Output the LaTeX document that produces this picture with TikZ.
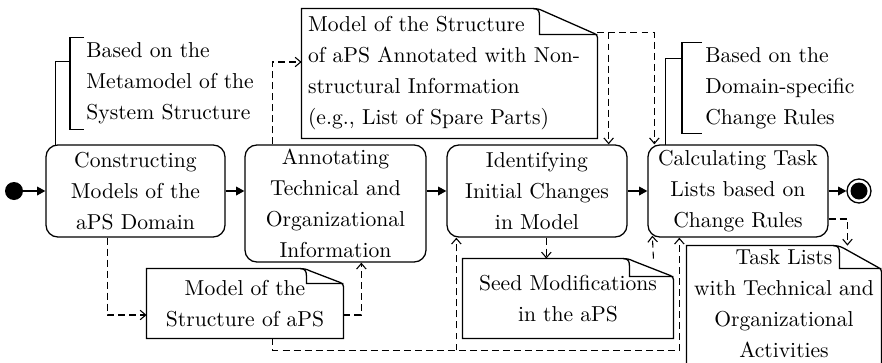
\documentclass[tikz,border=0pt]{standalone}
\usetikzlibrary{arrows.meta,calc}
% #1 node name, #2 fold width, #3 fold height, #4 extra length below the node (px)
\newcommand\notefold[4]{%
  \coordinate (F) at (#1.north east);
  \draw[noteline] ($(#1.south east)+(0,#4)$) -- ($(F)+(0,#3+3)$)
     .. controls ($(F)+(0,#3+1)$) and ($(F)+(-1,#3)$) .. ($(F)+(-3,#3-1)$)
     -- ($(F)+(-#2+10,2.5)$)
     .. controls ($(F)+(-#2+6,0.5)$) and ($(F)+(-#2+3,0)$) .. ($(F)+(-#2,0)$)
     -- (#1.north west) -- ($(#1.south west)+(0,#4)$) -- cycle;
  \draw[noteline] ($(F)+(-#2,0)$) .. controls ($(F)+(-#2+4,0)$) and ($(F)+(-#2+6,2)$) .. ($(F)+(-#2+6,7)$)
     -- ($(F)+(-#2+6,#3)$) -- ($(F)+(0,#3)$);
}
\begin{document}
\begin{tikzpicture}[x=0.463pt,y=-0.463pt,
  font=\fontsize{10}{14.35}\selectfont,
  proc/.style={draw, line width=0.6pt, rounded corners=5.5pt, align=center, inner sep=0pt},
  notetext/.style={inner sep=0pt, align=center},
  noteline/.style={line width=0.6pt},
  dep/.style={line width=0.5pt, dash pattern=on 3.2pt off 1.9pt, -{Straight Barb[length=2.6pt,width=4.4pt]}},
  flow/.style={line width=0.6pt, -{Triangle[length=3.8pt,width=4pt]}},
  brk/.style={line width=0.6pt},
  sz/.style 2 args={minimum width=#1*0.463pt, minimum height=#2*0.463pt}]
\useasboundingbox (0,0) rectangle (882,362);
\clip (0,0) rectangle (882,362);

% process boxes
\node[proc, sz={179}{92}]  (b1) at (135.5,191)   {Constructing\\Models of the\\aPS Domain};
\node[proc, sz={181}{117}] (b2) at (335.5,203.5) {Annotating\\Technical and\\Organizational\\Information};
\node[proc, sz={180}{92}]  (b3) at (537,191)     {Identifying\\Initial Changes\\in Model};
\node[proc, sz={180}{92}]  (b4) at (738,191)     {Calculating Task\\Lists based on\\Change Rules};

% start / end
\node[circle, fill, inner sep=0pt, minimum size=18*0.463pt] (start) at (14,191) {};
\node[circle, draw, line width=0.6pt, inner sep=0pt, minimum size=24*0.463pt] (end) at (859,191) {};
\node[circle, fill, inner sep=0pt, minimum size=17*0.463pt] (endin) at (859,191) {};

% annotations with brackets
\node[anchor=west, align=left, inner xsep=7.4pt, inner ysep=0pt, minimum height=91*0.463pt] (a1) at (70,83.5)
  {Based on the\\Metamodel of the\\System Structure};
\node[anchor=west, align=left, inner xsep=10.6pt, inner ysep=0pt, minimum height=90*0.463pt] (a2) at (682,88)
  {Based on the\\Domain-specific\\Change Rules};
\draw[brk] ($(a1.north west)+(14,0)$) -- (a1.north west) -- (a1.south west) -- ($(a1.south west)+(14,0)$);
\draw[brk] ($(a2.north west)+(20,0)$) -- (a2.north west) -- (a2.south west) -- ($(a2.south west)+(20,0)$);
\draw[brk] ($(b1.north west)+(10,1)$) |- ($(a1.north west)+(0,24)$);
\draw[brk] ($(b4.north west)+(18,1)$) |- ($(a2.north west)+(0,16)$);

% notes
\node[notetext, sz={295}{129}, align=left, text width=131pt, inner xsep=2.8pt] (n1) at (449.5,73.5)
  {Model of the Structure\\of aPS Annotated with Non-\\structural Information\\(e.g., List of Spare Parts)};
\node[notetext, sz={196}{69}] (n2) at (245,303.5) {Model of the\\Structure of aPS};
\node[notetext, sz={210}{79}] (n3) at (568,298.5) {Seed Modifications\\in the aPS};
\node[notetext, sz={194}{116}] (n4) at (784,304) {Task Lists\\with Technical and\\Organizational\\Activities};
\notefold{n1}{64}{26}{0}
\notefold{n2}{43}{15}{0}
\notefold{n3}{50}{18}{0}
\notefold{n4}{48}{23}{30}

% control flow
\draw[flow] (start) -- (b1.west);
\draw[flow] (b1.east) -- (b1.east -| b2.west);
\draw[flow] (b2.east |- b1.east) -- (b3.west);
\draw[flow] (b3.east) -- (b4.west);
\draw[flow] (b4.east) -- (end.west);

% object flow (dashed)
\draw[dep] ($(b2.north west)+(28,0)$) |- ($(n1.west)+(0,-11.5)$);
\coordinate (n1out) at ($(n1.north east)+(0,24)$);
\coordinate (b3top) at ($(b3.north east)+(-19,0)$);
\coordinate (b4top) at ($(b4.north west)+(7,0)$);
\draw[dep] (n1out) -| (b4top);
\draw[dep] (b3top |- n1out) -- (b3top);

\draw[dep] ($(b1.south west)+(62,0)$) |- ($(n2.west)+(0,11.5)$);
\draw[dep] ($(n2.east)+(0,11.5)$) -| ($(b2.south west)+(117,0)$);

\coordinate (n2b) at ($(n2.south west)+(126,0)$);
\coordinate (low) at ($(n2b)+(0,12)$);
\coordinate (b3bot) at ($(b3.south west)+(10,0)$);
\draw[dep] (n2b) -- (low) -| ($(b4.south west)+(32,0)$);
\draw[dep] (b3bot |- low) -- (b3bot);

\coordinate (b3mid) at ($(b3.south west)+(100,0)$);
\draw[dep] (b3mid) -- (b3mid |- n3.north);
\coordinate (n3top) at ($(n3.north east)+(-20,0)$);
\draw[dep] (n3top) -- ($(b4.south west)+(5,-2)$);

\draw[dep] ($(b4.east)+(0,28)$) -| ($(n4.north east)+(-34,0)$);
\end{tikzpicture}
\end{document}
